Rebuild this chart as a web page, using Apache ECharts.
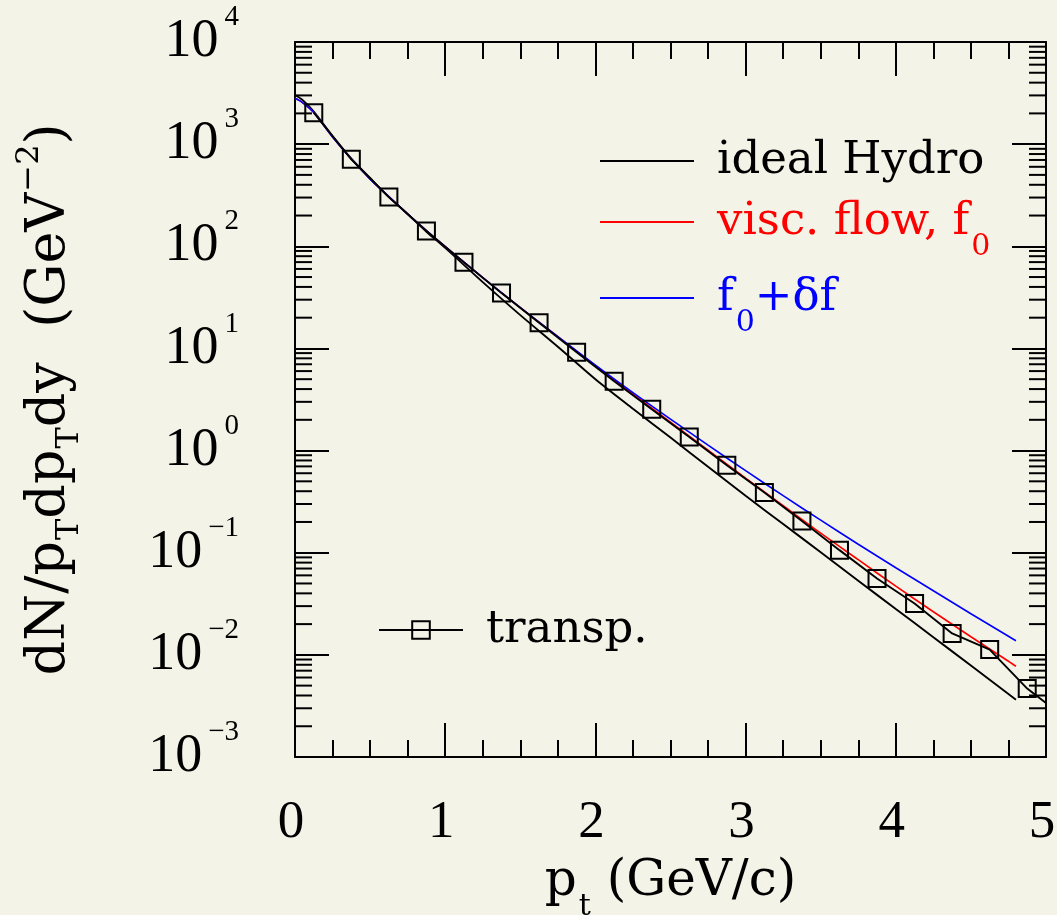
<!DOCTYPE html>
<html>
<head>
<meta charset="utf-8">
<script src="https://cdn.jsdelivr.net/npm/echarts@6/dist/echarts.min.js"></script>
<style>
html,body{margin:0;padding:0;background:#f3f3e7;}
#chart{width:1057px;height:915px;}
</style>
</head>
<body>
<div id="chart"></div>
<script>
// ---- data ----
const ptTransp = [0.125, 0.375, 0.625, 0.875, 1.125, 1.375, 1.625, 1.875, 2.125, 2.375,
                  2.625, 2.875, 3.125, 3.375, 3.625, 3.875, 4.125, 4.375, 4.625, 4.875];
const transpY = [2030, 710, 303, 141, 69.6, 34.8, 17.8, 9.2, 4.78, 2.54,
                 1.36, 0.719, 0.389, 0.204, 0.106, 0.0559, 0.0318, 0.0162, 0.01127, 0.00468];
const transpTailX = 5.0;
const transpTailY = 0.00338;

const ptCurve = [0, 0.05, 0.125, 0.25, 0.375, 0.5, 0.625, 0.75, 0.875, 1.0, 1.25, 1.5, 1.75,
                 2.0, 2.25, 2.5, 2.75, 3.0, 3.25, 3.5, 3.75, 4.0, 4.25, 4.5, 4.75, 4.8];
const idealY = [3027, 2704, 2085, 1200, 722, 466, 303, 207, 139, 96.4, 44.6, 21.2, 10.4,
                5.00, 2.57, 1.34, 0.695, 0.361, 0.191, 0.101, 0.0532, 0.0281, 0.0149, 0.00785, 0.00414, 0.00364];
const viscY = [2809, 2555, 2039, 1173, 714.6, 455.1, 306.8, 206.8, 142.5, 99.3, 49.4, 25.1, 13.05,
               6.78, 3.57, 1.897, 1.009, 0.5366, 0.2886, 0.1552, 0.0854, 0.0470, 0.02643, 0.01504, 0.00866, 0.00773];
const deltaY = [2809, 2555, 2039, 1173, 714.6, 455.1, 306.8, 206.8, 142.5, 99.3, 49.4, 25.1, 13.05,
                6.86, 3.69, 2.030, 1.129, 0.6356, 0.3618, 0.2082, 0.1211, 0.0713, 0.04244, 0.02527, 0.01521, 0.01374];

const seriesNames = ['ideal Hydro', 'visc. flow, f0', 'f0+δf', 'transp.'];
const legendLabels = {
  'ideal Hydro': 'ideal Hydro',
  'visc. flow, f0': 'visc. flow, f{sub|0}',
  'f0+δf': 'f{sub|0}+δf',
  'transp.': 'transp.'
};
const xTicks = [0, 1, 2, 3, 4, 5];
const yDecades = [-3, -2, -1, 0, 1, 2, 3, 4];
const minorMultipliers = [2, 3, 4, 5, 6, 7, 8, 9];

// ---- build ----
const pairs = (xs, ys) => xs.map((x, i) => [x, ys[i]]);
const minorTickData = [];
yDecades.slice(0, -1).forEach(e => minorMultipliers.forEach(m => minorTickData.push([0, m * Math.pow(10, e)])));

const SERIF = 'DejaVu Serif';
const TIMES = 'Liberation Serif';
const BG = '#f3f3e7';

function subRich(color) {
  return {
    sub: {fontFamily: SERIF, fontSize: 30, color: color, verticalAlign: 'bottom', padding: [0, 0, -15, 2]}
  };
}

const chart = echarts.init(document.getElementById('chart'), null, {renderer: 'canvas'});

const axisLineStyle = {color: '#000', width: 2};
const xBase = {
  type: 'value', min: xTicks[0], max: xTicks[xTicks.length - 1], interval: 1,
  axisLine: {show: true, onZero: false, lineStyle: axisLineStyle},
  axisTick: {show: true, inside: true, length: 34, lineStyle: {color: '#000', width: 2}},
  minorTick: {show: true, splitNumber: 4, length: 17, lineStyle: {color: '#000', width: 2}},
  splitLine: {show: false}, minorSplitLine: {show: false}
};
const yBase = {
  type: 'log', logBase: 10, min: Math.pow(10, yDecades[0]), max: Math.pow(10, yDecades[yDecades.length - 1]),
  splitNumber: 7,
  axisLine: {show: true, onZero: false, lineStyle: axisLineStyle},
  axisTick: {show: true, inside: true, length: 34, lineStyle: {color: '#000', width: 2}},
  minorTick: {show: false},
  splitLine: {show: false}, minorSplitLine: {show: false}
};

const option = {
  backgroundColor: BG,
  animation: false,
  grid: {left: 295, top: 42, right: 11, bottom: 158, containLabel: false, outerBoundsMode: 'none'},
  xAxis: [
    Object.assign({}, xBase, {
      position: 'bottom',
      axisLabel: {show: true, margin: 46, fontFamily: TIMES, fontSize: 53, lineHeight: 40, color: '#000', padding: [0, 8, 0, 0]},
      name: 'p{sub|t} (GeV/c)',
      nameLocation: 'middle', nameGap: 90,
      nameTextStyle: {
        fontFamily: SERIF, fontSize: 50, color: '#000', lineHeight: 56,
        rich: {sub: {fontFamily: SERIF, fontSize: 30, color: '#000', verticalAlign: 'bottom', padding: [0, 0, -12, 2]}}
      }
    }),
    Object.assign({}, xBase, {position: 'top', axisLabel: {show: false}})
  ],
  yAxis: [
    Object.assign({}, yBase, {
      position: 'left',
      axisLabel: {
        show: true, margin: 56,
        formatter: function (v) {
          const e = Math.round(Math.log10(v));
          return '{b|10}{s|' + String(e).replace('-', '\u2212') + '}';
        },
        rich: {
          b: {fontFamily: TIMES, fontSize: 54, lineHeight: 78, color: '#000'},
          s: {fontFamily: TIMES, fontSize: 29, verticalAlign: 'top', color: '#000', padding: [0, 0, 0, 6]}
        }
      },
      name: 'dN/p{sub|T}dp{sub|T}dy  (GeV{sup|\u22122})',
      nameLocation: 'middle', nameGap: 215,
      nameTextStyle: {
        fontFamily: SERIF, fontSize: 54, color: '#000', lineHeight: 60,
        rich: {
          sub: {fontFamily: SERIF, fontSize: 32, color: '#000', verticalAlign: 'bottom', padding: [0, 0, -6, 1]},
          sup: {fontFamily: SERIF, fontSize: 32, color: '#000', verticalAlign: 'top', padding: [-6, 0, 0, 1]}
        }
      }
    }),
    Object.assign({}, yBase, {position: 'right', axisLabel: {show: false}})
  ],
  legend: [
    {
      data: [
        {name: seriesNames[0], icon: 'rect', textStyle: {color: '#000'}},
        {name: seriesNames[1], icon: 'rect', textStyle: {color: '#ff0000', rich: subRich('#ff0000')}},
        {name: seriesNames[2], icon: 'rect', textStyle: {color: '#0000ff', rich: subRich('#0000ff')}}
      ],
      orient: 'vertical', left: 600, top: 136, itemWidth: 94, itemHeight: 2, itemGap: 11,
      padding: 0,
      formatter: n => legendLabels[n],
      textStyle: {fontFamily: SERIF, fontSize: 45, lineHeight: 50, padding: [0, 0, 0, 18], rich: subRich('#000')}
    },
    {
      data: [{name: seriesNames[3], textStyle: {color: '#000'}}],
      orient: 'vertical', left: 378, top: 605, itemWidth: 84, itemHeight: 22, itemGap: 0,
      padding: 0,
      formatter: n => legendLabels[n],
      textStyle: {fontFamily: SERIF, fontSize: 45, lineHeight: 50, padding: [0, 0, 0, 18]}
    }
  ],
  series: [
    {
      name: seriesNames[0], type: 'line', data: pairs(ptCurve, idealY), symbol: 'none', smooth: 0.3,
      lineStyle: {color: '#000', width: 1.9}, itemStyle: {color: '#000'}, z: 2
    },
    {
      name: seriesNames[1], type: 'line', data: pairs(ptCurve, viscY), symbol: 'none', smooth: 0.3,
      lineStyle: {color: '#ff0000', width: 1.6}, itemStyle: {color: '#ff0000'}, z: 3
    },
    {
      name: seriesNames[2], type: 'line', data: pairs(ptCurve, deltaY), symbol: 'none', smooth: 0.3,
      lineStyle: {color: '#0000ff', width: 1.6}, itemStyle: {color: '#0000ff'}, z: 4
    },
    {
      name: seriesNames[3], type: 'line',
      data: pairs(ptTransp, transpY).concat([{value: [transpTailX, transpTailY], symbol: 'none'}]),
      symbol: 'rect', symbolSize: 17, showAllSymbol: true,
      lineStyle: {color: '#000', width: 1.9},
      itemStyle: {color: 'rgba(0,0,0,0)', borderColor: '#000', borderWidth: 2},
      z: 5
    },
    {
      type: 'custom', silent: true, clip: false,
      data: minorTickData,
      renderItem: function (params, api) {
        const v = api.value(1);
        const pl = api.coord([xTicks[0], v]);
        const pr = api.coord([xTicks[xTicks.length - 1], v]);
        return {
          type: 'group',
          children: [
            {type: 'line', shape: {x1: pl[0], y1: pl[1], x2: pl[0] + 17, y2: pl[1]}, style: {stroke: '#000', lineWidth: 2}},
            {type: 'line', shape: {x1: pr[0] - 17, y1: pr[1], x2: pr[0], y2: pr[1]}, style: {stroke: '#000', lineWidth: 2}}
          ]
        };
      },
      z: 1
    }
  ]
};
chart.setOption(option);
</script>
</body>
</html>
